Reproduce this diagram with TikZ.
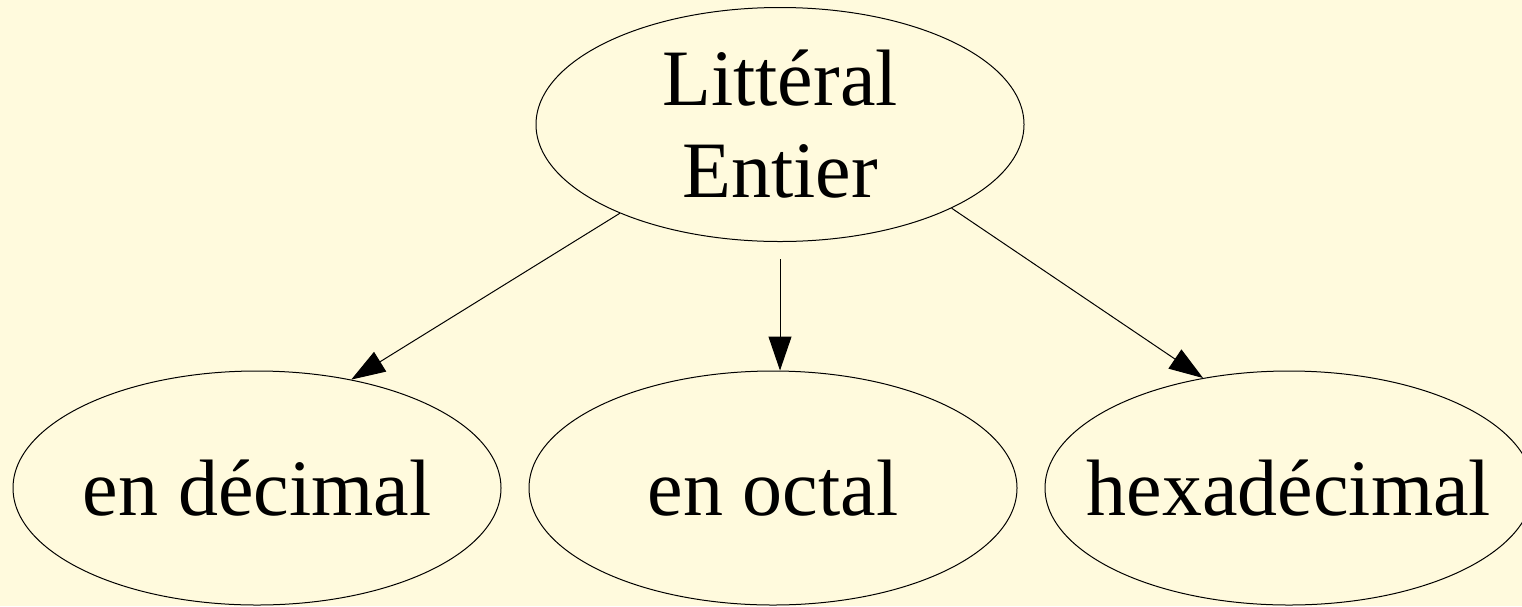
\documentclass[tikz,border=0pt]{standalone}
\usepackage{fontspec}
\setmainfont{Liberation Serif}
\usetikzlibrary{shapes.geometric,arrows.meta}
\definecolor{paper}{RGB}{255,250,221}
% zero-width line so that the ellipse keeps its given size
\newcommand\zw[1]{\makebox[0pt]{#1}}
\begin{document}
\begin{tikzpicture}[x=1pt,y=-1pt,
  term/.style={ellipse, draw=black, line width=1pt, fill=paper,
    minimum width=488pt, minimum height=234pt, inner sep=0pt,
    align=center, font=\fontsize{80}{95}\selectfont},
  link/.style={draw=black, line width=1pt,
    -{Triangle[length=34pt,width=23pt]}}]
  \useasboundingbox (0,0) rectangle (1522,606);
  \clip (0,0) rectangle (1522,606);
  \fill[paper] (0,0) rectangle (1522,606);

  \node[term] (top) at (780,124.5) {\zw{Littéral}\\[-3pt]\zw{Entier}};
  \node[term] (dec) at (257,488) {\zw{en décimal}};
  \node[term] (oct) at (773,488) {\zw{en octal}};
  \node[term] (hex) at (1289,488) {\zw{hexadécimal}};

  \draw[link] (top.209) -- (dec.49.5);
  \draw[link, shorten <=17pt] (top.south) -- (top.south |- oct.north);
  \draw[link] (top.334.8) -- (hex.128.8);
\end{tikzpicture}
\end{document}
